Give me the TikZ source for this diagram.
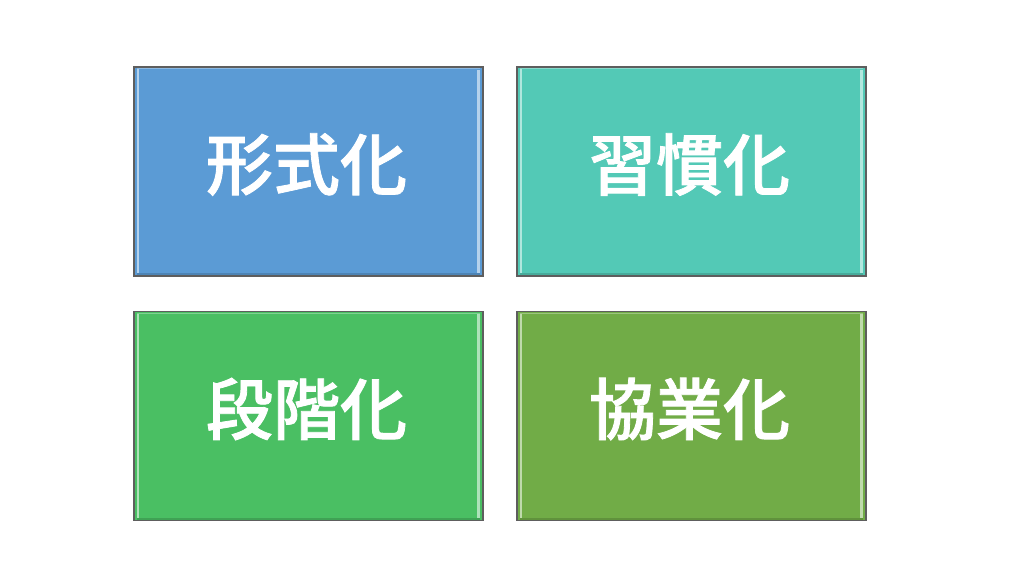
\documentclass[tikz,border=0pt]{standalone}
\usepackage{fontspec}
\newfontfamily\cjk[FakeBold=1.2]{Noto Sans CJK JP Medium}
\usetikzlibrary{calc}
\definecolor{cblue}{HTML}{5B9BD5}
\definecolor{cteal}{HTML}{53C9B6}
\definecolor{cgreen}{HTML}{4ABF63}
\definecolor{colive}{HTML}{71AC47}
\definecolor{cborder}{HTML}{5E5E5E}
\tikzset{
  box/.style={draw=cborder, line width=1.2pt, fill=#1, rectangle,
    minimum width=349pt, minimum height=209pt, inner sep=0pt,
    path picture={
      \fill[#1!45!white] ($(path picture bounding box.north west)+(2.5pt,-2pt)$) rectangle ($(path picture bounding box.south west)+(4.5pt,3pt)$);
      \fill[#1!45!white] ($(path picture bounding box.north east)+(-6pt,-3pt)$) rectangle ($(path picture bounding box.south east)+(-3.5pt,3pt)$);
      \fill[#1!70!white] ($(path picture bounding box.north west)+(3pt,-1.2pt)$) rectangle ($(path picture bounding box.north east)+(-3pt,-2.4pt)$);
      \fill[#1!85!black] ($(path picture bounding box.south west)+(3pt,1pt)$) rectangle ($(path picture bounding box.south east)+(-3pt,3pt)$);
    }},
  lbl/.style={font=\cjk\fontsize{67}{70}\selectfont, text=white, inner sep=0pt}
}
\begin{document}
\begin{tikzpicture}[x=1pt,y=1pt]
\useasboundingbox (0,0) rectangle (1024,576);
\node[box=cblue] (a) at (308.5,404.5) {};
\node[box=cteal] (b) at (691.5,404.5) {};
\node[box=cgreen] (c) at (308.5,160) {};
\node[box=colive] (d) at (691.5,160) {};
\node[lbl] (ta) at ($(a)+(-2,7)$) {形式化};
\node[lbl] (tb) at ($(b)+(-2,7)$) {習慣化};
\node[lbl] (tc) at ($(c)+(-2,7)$) {段階化};
\node[lbl] (td) at ($(d)+(-2,7)$) {協業化};
\end{tikzpicture}
\end{document}
